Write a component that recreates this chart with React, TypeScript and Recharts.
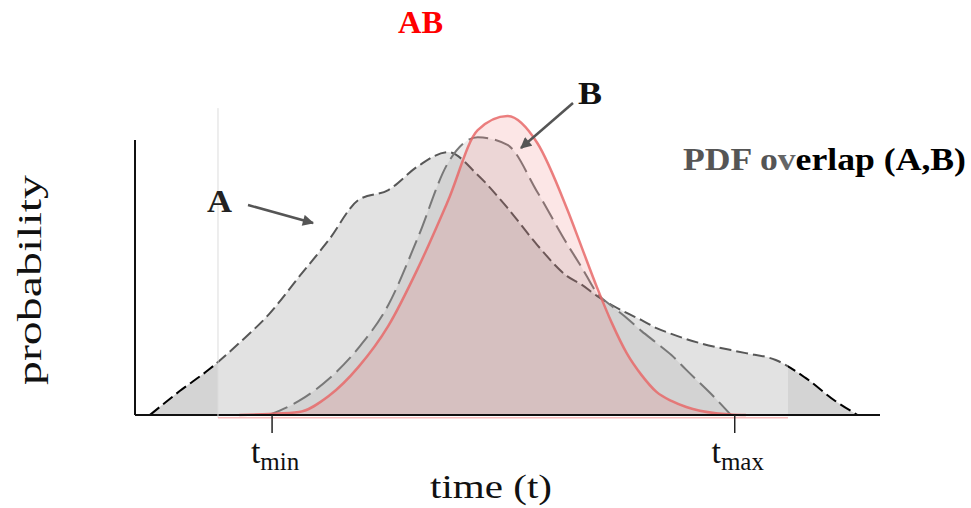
import { Area, ComposedChart, ReferenceArea, ReferenceLine, XAxis, YAxis } from 'recharts';

// time axis (0..100) and the three densities
const TIME = [2, 6, 10, 14, 18, 22, 26, 30, 34, 38, 42, 46, 50, 54, 58, 60, 62, 64, 66, 68, 70, 72, 74, 78, 80, 82, 86, 90, 94, 97];
const PDF_A = [0, 8.7, 16.7, 26.2, 36.7, 50.2, 63.6, 78.2, 81.8, 90.5, 95.6, 87.3, 75.3, 61.8, 50.5, 47.3, 43.3, 40, 37.1, 34.5, 31.6, 29.5, 27.6, 24.7, 23.6, 22.5, 20, 13.5, 5.1, 0];
const PDF_B = [null, null, null, null, 0, 5.1, 13.1, 24.4, 40, 64.7, 91.6, 101, 98.2, 81.1, 62.2, 53.5, 44.4, 39.6, 35.3, 30.5, 26.2, 21.8, 16.4, 5.8, 0, null, null, null, null, null];
const PDF_AB = [null, null, null, 0, 0.4, 1.1, 6.9, 17.5, 32.4, 53.5, 77.8, 103.6, 108.7, 98.9, 74.9, 60.7, 46.5, 33.5, 22.5, 14.5, 8.4, 5.1, 2.9, 0.6, 0.2, 0, null, null, null, null];

const TICKS = [18.4, 80.5];
const TICK_SUBS = ['min', 'max'];
const WINDOW = [11.14, 87.65];

const rows = TIME.map((t, i) => ({ t, a: PDF_A[i], b: PDF_B[i], ab: PDF_AB[i] }));

const SERIF = '"Liberation Serif", "Times New Roman", Times, serif';

const TimeTick = ({ x, y, payload }: any) => {
  const i = TICKS.indexOf(payload.value);
  return (
    <text x={x + 3} y={y} textAnchor="middle" fontFamily={SERIF} fill="#111">
      <tspan fontSize={34} dy={28}>t</tspan>
      <tspan fontSize={25} dy={7}>{TICK_SUBS[i]}</tspan>
    </text>
  );
};

export default function App() {
  return (
    <div style={{ position: 'absolute', left: 0, top: 0, width: 971, height: 508, background: '#fff' }}>
      <ComposedChart width={971} height={508} data={rows} margin={{ top: 85, right: 91, bottom: 63, left: 135 }}>
        <XAxis
          dataKey="t"
          type="number"
          domain={[0, 100]}
          ticks={TICKS}
          interval={0}
          axisLine={false}
          tickLine={{ stroke: '#222', strokeWidth: 1.5 }}
          tickSize={18}
          height={30}
          tick={<TimeTick />}
        />
        <YAxis hide domain={[0, 120]} />
        <Area dataKey="a" type="monotone" stroke="#000" strokeWidth={2} strokeDasharray="12 5"
          fill="#d4d4d4" fillOpacity={1} dot={false} activeDot={false} isAnimationActive={false} />
        <Area dataKey="b" type="monotone" stroke="#333" strokeWidth={2} strokeDasharray="20 7"
          fill="#000" fillOpacity={0.11} dot={false} activeDot={false} isAnimationActive={false} />
        <Area dataKey="ab" type="monotone" stroke="#dc1c1c" strokeOpacity={0.85} strokeWidth={2.5}
          fill="#e00000" fillOpacity={0.15} dot={false} activeDot={false} isAnimationActive={false} />
        <ReferenceLine y={0} stroke="#111" strokeWidth={2} />
        <ReferenceLine segment={[{ x: 0, y: 0 }, { x: 0, y: 100 }]} stroke="#111" strokeWidth={2} />
        <ReferenceArea x1={WINDOW[0]} x2={WINDOW[1]} y1={-1} y2={111.6} fill="#fff" fillOpacity={0.34}
          stroke="none" ifOverflow="visible" />
        <ReferenceLine segment={[{ x: WINDOW[0], y: -1 }, { x: WINDOW[0], y: 111.6 }]} stroke="#ddd"
          strokeWidth={1} ifOverflow="visible" />
        <ReferenceLine segment={[{ x: WINDOW[0], y: -1 }, { x: WINDOW[1], y: -1 }]} stroke="#f5a0a0"
          strokeOpacity={0.7} strokeWidth={1.5} ifOverflow="visible" />
      </ComposedChart>

      <svg width={971} height={508} style={{ position: 'absolute', left: 0, top: 0, pointerEvents: 'none' }}>
        <defs>
          <marker id="ah" viewBox="0 0 10 10" refX={9} refY={5} markerWidth={5} markerHeight={4.5} orient="auto">
            <path d="M0,0 L10,5 L0,10 z" fill="#555" />
          </marker>
        </defs>
        <text x={398} y={33} fontFamily={SERIF} fontWeight="bold" fontSize={32} fill="#ff0000"
          textLength={45} lengthAdjust="spacingAndGlyphs">AB</text>
        <text x={578} y={104} fontFamily={SERIF} fontWeight="bold" fontSize={32} fill="#111"
          textLength={24} lengthAdjust="spacingAndGlyphs">B</text>
        <line x1={573} y1={103} x2={521} y2={148} stroke="#555" strokeWidth={2.5} markerEnd="url(#ah)" />
        <text x={207} y={212} fontFamily={SERIF} fontWeight="bold" fontSize={32} fill="#222"
          textLength={25} lengthAdjust="spacingAndGlyphs">A</text>
        <line x1={248} y1={205} x2={313} y2={223} stroke="#555" strokeWidth={2.5} markerEnd="url(#ah)" />
        <text x={683} y={170} fontFamily={SERIF} fontWeight="bold" fontSize={32} textLength={283}
          lengthAdjust="spacingAndGlyphs">
          <tspan fill="#555">PDF o</tspan>
          <tspan fill="#666">v</tspan>
          <tspan fill="#000">erlap (A,B)</tspan>
        </text>
        <text x={430} y={498} fontFamily={SERIF} fontSize={34} textLength={122}
          lengthAdjust="spacingAndGlyphs" fill="#111">time (t)</text>
        <text transform="translate(41,385) rotate(-90)" fontFamily={SERIF} fontSize={34}
          textLength={210} lengthAdjust="spacingAndGlyphs" fill="#111">probability</text>
      </svg>
    </div>
  );
}
